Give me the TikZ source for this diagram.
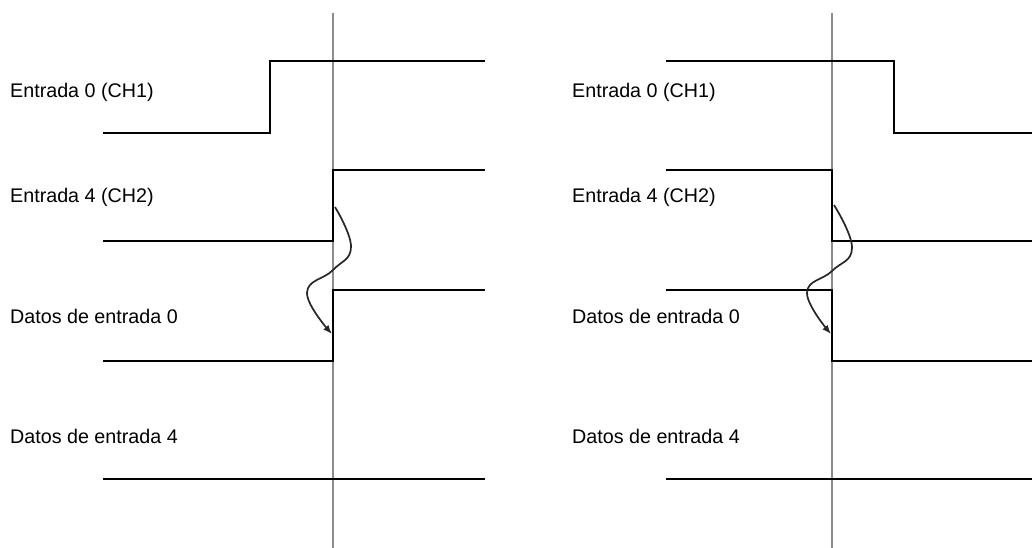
\documentclass[tikz,border=0pt]{standalone}
\usepackage{fontspec}
\setmainfont{Liberation Sans}
\usetikzlibrary{arrows.meta}
\begin{document}
\begin{tikzpicture}[x=1pt,y=-1pt,
  sig/.style={line width=2.2pt,black,line join=miter},
  cursor/.style={line width=1.3pt,color=black!45},
  delay/.style={line width=1.7pt,color=black!85,-{Latex[length=9pt,width=7pt]}},
  lbl/.style={anchor=base west,inner sep=0pt,font=\fontsize{19.7}{23}\selectfont}]
\useasboundingbox (0,0) rectangle (1032,548);

% ---- left panel: rising edges ----
\draw[cursor] (333,13) -- (333,548);
\node[lbl] (lA0) at (10,98)  {Entrada 0 (CH1)};
\node[lbl] (lA4) at (10,202) {Entrada 4 (CH2)};
\node[lbl] (lD0) at (10,323) {Datos de entrada 0};
\node[lbl] (lD4) at (10,443) {Datos de entrada 4};
\draw[sig] (103,133) -- (270,133) -- (270,61) -- (485,61);
\draw[sig] (103,241) -- (333,241) -- (333,170) -- (485,170);
\draw[sig] (103,361) -- (333,361) -- (333,290) -- (485,290);
\draw[sig] (103,479) -- (485,479);
\coordinate (ls) at (335,207);
\coordinate (le) at (332,334);
\draw[delay] plot[smooth,tension=0.75] coordinates
  {(ls) (351,247) (333,270) (307,293) (le)};

% ---- right panel: falling edges ----
\draw[cursor] (832,13) -- (832,548);
\node[lbl] (rA0) at (572,98)  {Entrada 0 (CH1)};
\node[lbl] (rA4) at (572,202) {Entrada 4 (CH2)};
\node[lbl] (rD0) at (572,323) {Datos de entrada 0};
\node[lbl] (rD4) at (572,443) {Datos de entrada 4};
\draw[sig] (666,61) -- (894,61) -- (894,133) -- (1033,133);
\draw[sig] (666,170) -- (832,170) -- (832,241) -- (1033,241);
\draw[sig] (666,290) -- (832,290) -- (832,361) -- (1033,361);
\draw[sig] (666,479) -- (1033,479);
\coordinate (rs) at (834,205);
\coordinate (re) at (831,334);
\draw[delay] plot[smooth,tension=0.75] coordinates
  {(rs) (852,248) (832,271) (807,293) (re)};
\end{tikzpicture}
\end{document}
